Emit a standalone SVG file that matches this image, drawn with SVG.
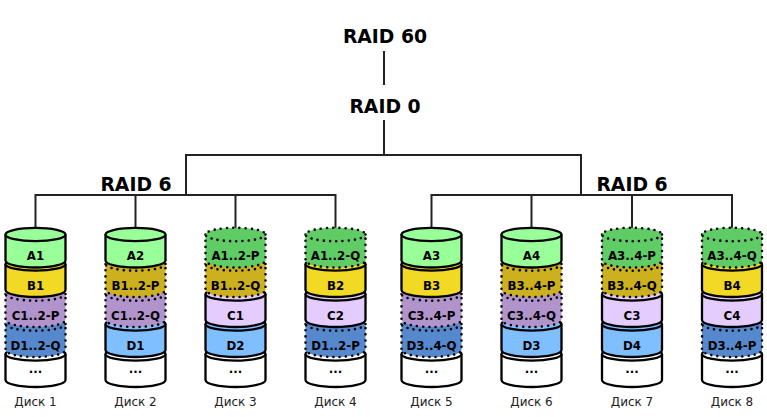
<svg xmlns="http://www.w3.org/2000/svg" width="767" height="417" viewBox="0 0 767 417">
<style>
text{font-family:"DejaVu Sans","Liberation Sans",sans-serif;text-anchor:middle;fill:#000}
.t{font-size:18.8px;font-weight:bold}
.l{font-size:11.8px;font-weight:bold}
.d{font-size:12px;fill:#222}
.c{fill:none;stroke:#222;stroke-width:2}
.s{stroke:#000;stroke-width:2.3}
.o{stroke:#000;stroke-width:2.6;stroke-linecap:round;stroke-dasharray:0 6.2}
.a{fill:#99ff99}.b{fill:#f1d924}.e{fill:#e5ccff}.f{fill:#80bfff}.w{fill:#fff}
.a2{fill:#5fcc66}.b2{fill:#ccb01e}.e2{fill:#b294cc}.f2{fill:#5588cc}
</style>
<defs>
<g id="cyl"><path d="M-30 0V26A30 7 0 0 0 30 26V0"/><ellipse rx="30" ry="6.700"/></g>
</defs>
<g id="connectors" class="c">
<path class="c" d="M384 51V85M384 120V155M186 195V155H581V195M35.500 228V195H335.500V228M135.500 195V228M235.500 195V228M431.500 228V195H732V228M531.500 195V228M632 195V228"/>
</g>
<g id="title-raid60"><text class="t" x="385" y="42.500">RAID 60</text></g>
<g id="title-raid0"><text class="t" x="385" y="112.500">RAID 0</text></g>
<g id="title-raid6-left"><text class="t" x="136" y="190.500">RAID 6</text></g>
<g id="title-raid6-right"><text class="t" x="632" y="190.500">RAID 6</text></g>

<g id="disk1" transform="translate(35.500 0)">
<use href="#cyl" class="s w" y="354"/><use href="#cyl" class="o f2" y="324"/><use href="#cyl" class="o e2" y="294"/><use href="#cyl" class="s b" y="264"/><use href="#cyl" class="s a" y="234.500"/>
<text class="l" y="260">A1</text><text class="l" y="290">B1</text><text class="l" y="320">C1..2-P</text><text class="l" y="350">D1..2-Q</text><text class="l" y="373">...</text><text class="d" y="406">Диск 1</text>
</g>
<g id="disk2" transform="translate(135.500 0)">
<use href="#cyl" class="s w" y="354"/><use href="#cyl" class="s f" y="324"/><use href="#cyl" class="o e2" y="294"/><use href="#cyl" class="o b2" y="264"/><use href="#cyl" class="s a" y="234.500"/>
<text class="l" y="260">A2</text><text class="l" y="290">B1..2-P</text><text class="l" y="320">C1..2-Q</text><text class="l" y="350">D1</text><text class="l" y="373">...</text><text class="d" y="406">Диск 2</text>
</g>
<g id="disk3" transform="translate(235.500 0)">
<use href="#cyl" class="s w" y="354"/><use href="#cyl" class="s f" y="324"/><use href="#cyl" class="s e" y="294"/><use href="#cyl" class="o b2" y="264"/><use href="#cyl" class="o a2" y="234.500"/>
<text class="l" y="260">A1..2-P</text><text class="l" y="290">B1..2-Q</text><text class="l" y="320">C1</text><text class="l" y="350">D2</text><text class="l" y="373">...</text><text class="d" y="406">Диск 3</text>
</g>
<g id="disk4" transform="translate(335.500 0)">
<use href="#cyl" class="s w" y="354"/><use href="#cyl" class="o f2" y="324"/><use href="#cyl" class="s e" y="294"/><use href="#cyl" class="s b" y="264"/><use href="#cyl" class="o a2" y="234.500"/>
<text class="l" y="260">A1..2-Q</text><text class="l" y="290">B2</text><text class="l" y="320">C2</text><text class="l" y="350">D1..2-P</text><text class="l" y="373">...</text><text class="d" y="406">Диск 4</text>
</g>
<g id="disk5" transform="translate(431.500 0)">
<use href="#cyl" class="s w" y="354"/><use href="#cyl" class="o f2" y="324"/><use href="#cyl" class="o e2" y="294"/><use href="#cyl" class="s b" y="264"/><use href="#cyl" class="s a" y="234.500"/>
<text class="l" y="260">A3</text><text class="l" y="290">B3</text><text class="l" y="320">C3..4-P</text><text class="l" y="350">D3..4-Q</text><text class="l" y="373">...</text><text class="d" y="406">Диск 5</text>
</g>
<g id="disk6" transform="translate(531.500 0)">
<use href="#cyl" class="s w" y="354"/><use href="#cyl" class="s f" y="324"/><use href="#cyl" class="o e2" y="294"/><use href="#cyl" class="o b2" y="264"/><use href="#cyl" class="s a" y="234.500"/>
<text class="l" y="260">A4</text><text class="l" y="290">B3..4-P</text><text class="l" y="320">C3..4-Q</text><text class="l" y="350">D3</text><text class="l" y="373">...</text><text class="d" y="406">Диск 6</text>
</g>
<g id="disk7" transform="translate(632 0)">
<use href="#cyl" class="s w" y="354"/><use href="#cyl" class="s f" y="324"/><use href="#cyl" class="s e" y="294"/><use href="#cyl" class="o b2" y="264"/><use href="#cyl" class="o a2" y="234.500"/>
<text class="l" y="260">A3..4-P</text><text class="l" y="290">B3..4-Q</text><text class="l" y="320">C3</text><text class="l" y="350">D4</text><text class="l" y="373">...</text><text class="d" y="406">Диск 7</text>
</g>
<g id="disk8" transform="translate(732 0)">
<use href="#cyl" class="s w" y="354"/><use href="#cyl" class="o f2" y="324"/><use href="#cyl" class="s e" y="294"/><use href="#cyl" class="s b" y="264"/><use href="#cyl" class="o a2" y="234.500"/>
<text class="l" y="260">A3..4-Q</text><text class="l" y="290">B4</text><text class="l" y="320">C4</text><text class="l" y="350">D3..4-P</text><text class="l" y="373">...</text><text class="d" y="406">Диск 8</text>
</g>
</svg>
